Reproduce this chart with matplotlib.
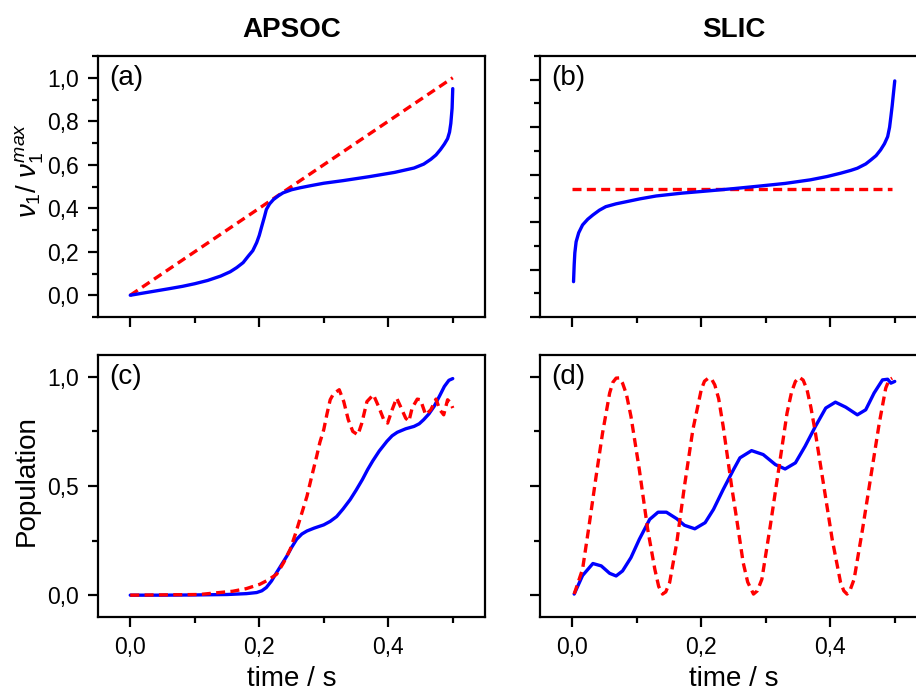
import matplotlib
matplotlib.use('Agg')
import matplotlib.pyplot as plt
from matplotlib.ticker import MultipleLocator, FuncFormatter

plt.rcParams['font.family'] = ['Liberation Sans', 'DejaVu Sans']
plt.rcParams['mathtext.fontset'] = 'custom'
plt.rcParams['mathtext.rm'] = 'Liberation Sans'
plt.rcParams['mathtext.it'] = 'Liberation Sans:italic'

# --- Data ---
# (a) APSOC, nu1 / nu1max
a_t_blue = [0, 0.02, 0.04, 0.06, 0.081, 0.1, 0.12, 0.14, 0.155, 0.165, 0.175, 0.183,
            0.19, 0.196, 0.2, 0.204, 0.208, 0.211, 0.216, 0.222, 0.23, 0.237, 0.25,
            0.263, 0.28, 0.3, 0.33, 0.37, 0.41, 0.44, 0.455, 0.466, 0.474, 0.481,
            0.487, 0.492, 0.495, 0.497, 0.499, 0.5]
a_blue = [0, 0.01, 0.02, 0.03, 0.041, 0.053, 0.068, 0.088, 0.108, 0.127, 0.15, 0.18,
          0.205, 0.242, 0.275, 0.318, 0.36, 0.394, 0.42, 0.44, 0.458, 0.471, 0.485,
          0.494, 0.504, 0.515, 0.527, 0.545, 0.565, 0.585, 0.603, 0.625, 0.645, 0.67,
          0.695, 0.72, 0.75, 0.79, 0.86, 0.95]
a_t_red = [0, 0.5]
a_red = [0, 1.0]

# (b) SLIC, nu1 / nu1max
b_t_blue = [0.002, 0.003, 0.004, 0.006, 0.01, 0.016, 0.024, 0.032, 0.042, 0.052, 0.068,
            0.084, 0.105, 0.13, 0.17, 0.213, 0.25, 0.291, 0.33, 0.369, 0.395, 0.416,
            0.432, 0.442, 0.455, 0.463, 0.471, 0.478, 0.484, 0.489, 0.492, 0.494,
            0.496, 0.498, 0.5]
b_blue = [0.149, 0.22, 0.27, 0.317, 0.355, 0.388, 0.412, 0.43, 0.45, 0.465, 0.477,
          0.486, 0.498, 0.51, 0.522, 0.532, 0.541, 0.552, 0.563, 0.578, 0.592, 0.606,
          0.618, 0.627, 0.645, 0.662, 0.68, 0.704, 0.73, 0.76, 0.8, 0.844,
          0.89, 0.943, 0.995]
b_t_red = [0, 0.496]
b_red = [0.538, 0.538]

# (c) APSOC, population
c_t_blue = [0, 0.05, 0.1, 0.15, 0.18, 0.196, 0.204, 0.211, 0.219, 0.227, 0.235, 0.243,
            0.25, 0.258, 0.266, 0.274, 0.285, 0.3, 0.31, 0.32, 0.33, 0.341, 0.35, 0.36,
            0.368, 0.376, 0.386, 0.398, 0.406, 0.414, 0.427, 0.44, 0.448, 0.455, 0.463,
            0.471, 0.48, 0.487, 0.494, 0.5]
c_blue = [0, 0.0, 0.001, 0.003, 0.007, 0.012, 0.02, 0.035, 0.065, 0.104, 0.142, 0.18,
          0.218, 0.256, 0.28, 0.294, 0.307, 0.322, 0.338, 0.36, 0.395, 0.438, 0.48, 0.53,
          0.575, 0.615, 0.66, 0.705, 0.73, 0.746, 0.762, 0.773, 0.785, 0.804, 0.83,
          0.864, 0.915, 0.956, 0.984, 0.992]
c_t_red = [0, 0.107, 0.159, 0.18, 0.201, 0.214, 0.227, 0.238, 0.248, 0.256, 0.263,
           0.274, 0.281, 0.289, 0.294, 0.3, 0.305, 0.31, 0.315, 0.324, 0.331, 0.338,
           0.345, 0.353, 0.359, 0.367, 0.377, 0.385, 0.393, 0.399, 0.406, 0.413, 0.419,
           0.427, 0.432, 0.437, 0.445, 0.45, 0.458, 0.466, 0.474, 0.48, 0.486, 0.492,
           0.497, 0.5]
c_red = [0, 0.003, 0.018, 0.03, 0.05, 0.07, 0.096, 0.15, 0.21, 0.28, 0.347,
         0.453, 0.54, 0.636, 0.7, 0.758, 0.83, 0.895, 0.922, 0.941, 0.887, 0.804,
         0.75, 0.734, 0.788, 0.887, 0.918, 0.864, 0.804, 0.788, 0.849, 0.903, 0.864,
         0.811, 0.796, 0.857, 0.898, 0.895, 0.826, 0.849, 0.898, 0.849, 0.826, 0.895,
         0.88, 0.857]

# (d) SLIC, population
d_t_blue = [0.003, 0.016, 0.032, 0.045, 0.058, 0.068, 0.078, 0.091, 0.104, 0.12, 0.133,
            0.146, 0.162, 0.174, 0.19, 0.206, 0.219, 0.234, 0.25, 0.26, 0.278, 0.296,
            0.315, 0.33, 0.346, 0.361, 0.377, 0.393, 0.408, 0.424, 0.442, 0.455, 0.468,
            0.481, 0.489, 0.494, 0.5]
d_blue = [0.005, 0.09, 0.145, 0.134, 0.1, 0.088, 0.111, 0.172, 0.256, 0.347, 0.38,
          0.38, 0.35, 0.32, 0.304, 0.332, 0.393, 0.484, 0.575, 0.629, 0.662, 0.644,
          0.598, 0.578, 0.606, 0.682, 0.773, 0.857, 0.884, 0.861, 0.826, 0.849, 0.926,
          0.986, 0.989, 0.971, 0.979]
d_t_red = [0.003, 0.016, 0.026, 0.037, 0.047, 0.058, 0.063, 0.068, 0.073, 0.078, 0.084,
           0.091, 0.104, 0.117, 0.128, 0.134, 0.14, 0.145, 0.151, 0.162, 0.174, 0.187,
           0.2, 0.205, 0.211, 0.216, 0.221, 0.227, 0.234, 0.247, 0.255, 0.265, 0.272,
           0.281, 0.287, 0.294, 0.307, 0.32, 0.333, 0.34, 0.346, 0.352, 0.358, 0.364,
           0.37, 0.377, 0.39, 0.403, 0.416, 0.421, 0.426, 0.431, 0.437, 0.45, 0.463,
           0.476, 0.486, 0.491, 0.496]
d_red = [0.005, 0.119, 0.317, 0.545, 0.743, 0.926, 0.975, 0.994, 0.995, 0.971, 0.92,
         0.819, 0.575, 0.301, 0.119, 0.04, 0.005, 0.015, 0.058, 0.24, 0.5, 0.758,
         0.941, 0.98, 0.994, 0.99, 0.963, 0.9, 0.773, 0.5, 0.347, 0.149, 0.06,
         0.005, 0.02, 0.073, 0.317, 0.575, 0.834, 0.93, 0.979, 0.998, 0.985, 0.941,
         0.86, 0.743, 0.5, 0.256, 0.058, 0.02, 0.005, 0.025, 0.073, 0.301, 0.545,
         0.788, 0.948, 0.985, 0.994]

titles = ['APSOC', 'SLIC']
panel_labels = ['(a)', '(b)', '(c)', '(d)']

BLUE = '#0000ff'
RED = '#ff0000'

comma = FuncFormatter(lambda v, p: f'{v:.1f}'.replace('.', ','))

fig = plt.figure(figsize=(9.16, 6.9), dpi=100)
W, H = 916, 690
def add_axes(left, top, right, bottom):
    return fig.add_axes([left / W, 1 - bottom / H, (right - left) / W, (bottom - top) / H])

ax_a = add_axes(98, 56, 485, 317)
ax_b = add_axes(540, 56, 927, 317)
ax_c = add_axes(98, 355, 485, 617)
ax_d = add_axes(540, 355, 927, 617)
axes = [ax_a, ax_b, ax_c, ax_d]

lw = 2.4
dash = (2.7, 1.6)
solid = dict(color=BLUE, lw=lw, solid_joinstyle='round', solid_capstyle='round')
dashed = dict(color=RED, lw=lw, dashes=dash, dash_joinstyle='round')
ax_a.plot(a_t_red, a_red, **dashed)
ax_a.plot(a_t_blue, a_blue, **solid)
ax_b.plot(b_t_red, b_red, **dashed)
ax_b.plot(b_t_blue, b_blue, **solid)
ax_c.plot(c_t_blue, c_blue, **solid)
ax_c.plot(c_t_red, c_red, **dashed)
ax_d.plot(d_t_blue, d_blue, **solid)
ax_d.plot(d_t_red, d_red, **dashed)

for i, ax in enumerate(axes):
    ax.set_xlim(-0.05, 0.55)
    ax.xaxis.set_major_locator(MultipleLocator(0.2))
    ax.xaxis.set_minor_locator(MultipleLocator(0.1))
    ax.xaxis.set_major_formatter(comma)
    for s in ax.spines.values():
        s.set_linewidth(1.6)
    ax.tick_params(which='both', direction='out', width=1.6, labelsize=16.5,
                   top=False, right=False)
    ax.tick_params(which='major', length=7.5, pad=6)
    ax.tick_params(which='minor', length=4)
    ax.text(0.03, 0.965, panel_labels[i], transform=ax.transAxes, fontsize=20,
            ha='left', va='top')

ax_a.set_ylim(-0.1, 1.1)
ax_a.yaxis.set_major_locator(MultipleLocator(0.2))
ax_a.yaxis.set_minor_locator(MultipleLocator(0.1))
ax_a.yaxis.set_major_formatter(comma)
ax_b.set_ylim(0, 1.1)
ax_b.yaxis.set_major_locator(MultipleLocator(0.2))
ax_b.yaxis.set_minor_locator(MultipleLocator(0.1))
for ax in (ax_c, ax_d):
    ax.set_ylim(-0.1, 1.1)
    ax.yaxis.set_major_locator(MultipleLocator(0.5))
    ax.yaxis.set_minor_locator(MultipleLocator(0.25))
    ax.yaxis.set_major_formatter(comma)

for ax in (ax_a, ax_b):
    ax.tick_params(axis='x', which='both', labelbottom=False)
for ax in (ax_b, ax_d):
    ax.tick_params(axis='y', which='both', labelleft=False)

ax_a.set_title(titles[0], fontsize=20, fontweight='bold', pad=14)
ax_b.set_title(titles[1], fontsize=20, fontweight='bold', pad=14)

ax_a.set_ylabel(r'$\nu_1 /\ \nu_1^{max}$', fontsize=20)
ax_a.yaxis.set_label_coords(-0.135, 0.56)
ax_c.set_ylabel('Population', fontsize=20)
ax_c.yaxis.set_label_coords(-0.15, 0.52)
for ax in (ax_c, ax_d):
    ax.set_xlabel('time / s', fontsize=20, labelpad=5)

fig.savefig('out.png', dpi=100)
